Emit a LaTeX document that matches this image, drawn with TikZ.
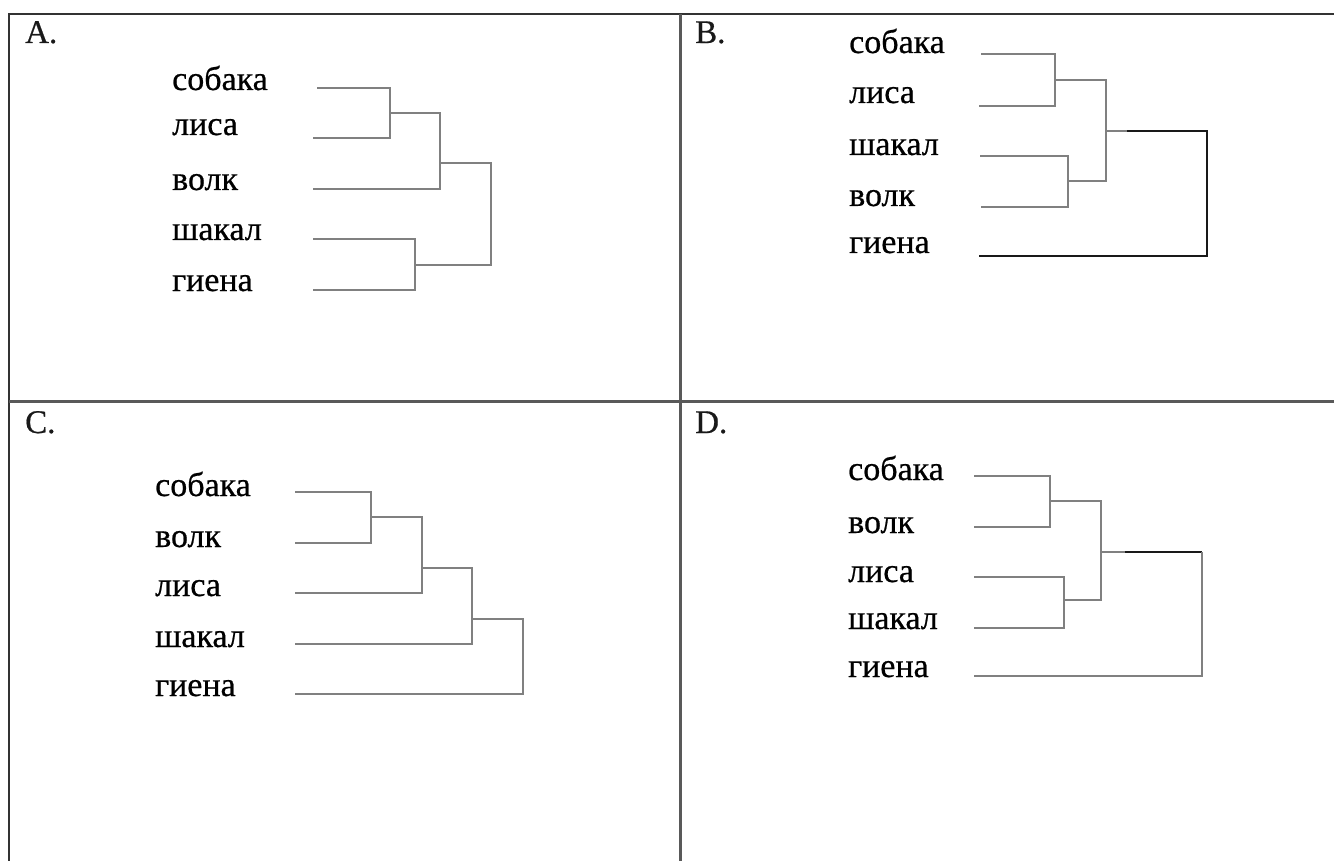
\documentclass[tikz,border=0pt]{standalone}
\usepackage{fontspec}
\setmainfont{Liberation Serif}
\newfontfamily\heavyserif[FakeBold=0.6]{Liberation Serif}
\begin{document}
\begin{tikzpicture}[x=1pt,y=-1pt,
  frame/.style={draw=black!80,line width=2.2pt},
  divider/.style={draw=black!65,line width=3pt},
  branch/.style={draw=black!50,line width=1.8pt},
  rootbranch/.style={draw=black!90,line width=1.6pt},
  lbl/.style={anchor=base west,inner sep=0pt,text=black,font=\heavyserif\fontsize{34}{36}\selectfont},
  tag/.style={anchor=base west,inner sep=0pt,text=black!90,font=\heavyserif\fontsize{33}{36}\selectfont}]
\useasboundingbox[fill=white] (0,0) rectangle (1334,861);

% outer frame and panel dividers
\draw[frame] (9,861) -- (9,14) -- (1334,14);
\draw[divider] (680,14) -- (680,861);
\draw[divider] (9,401) -- (1334,401);

% panel letters
\node[tag] (tA) at (25,43) {A.};
\node[tag] (tB) at (695,43) {B.};
\node[tag] (tC) at (25,433) {C.};
\node[tag] (tD) at (695,433) {D.};

% ---------- panel A ----------
\node[lbl] (la1) at (172,90) {собака};
\node[lbl] (la2) at (172,135) {лиса};
\node[lbl] (la3) at (172,190) {волк};
\node[lbl] (la4) at (172,240) {шакал};
\node[lbl] (la5) at (172,291) {гиена};
\coordinate (a1) at (317,88);
\coordinate (a2) at (313,138);
\coordinate (a3) at (313,189);
\coordinate (a4) at (313,239);
\coordinate (a5) at (313,290);
\coordinate (aj1) at (390,113);
\coordinate (aj2) at (440,163);
\coordinate (aj3) at (415,265);
\coordinate (aj4) at (491,214);
\draw[branch] (a1) -| (aj1) |- (a2);
\draw[branch] (aj1) -| (aj2) |- (a3);
\draw[branch] (a4) -| (aj3) |- (a5);
\draw[branch] (aj2) -| (aj4) |- (aj3);

% ---------- panel B ----------
\node[lbl] (lb1) at (849,53) {собака};
\node[lbl] (lb2) at (849,103) {лиса};
\node[lbl] (lb3) at (849,155) {шакал};
\node[lbl] (lb4) at (849,206) {волк};
\node[lbl] (lb5) at (849,253) {гиена};
\coordinate (b1) at (981,54);
\coordinate (b2) at (979,106);
\coordinate (b3) at (980,156);
\coordinate (b4) at (981,207);
\coordinate (b5) at (979,256);
\coordinate (bj1) at (1055,80);
\coordinate (bj2) at (1068,181);
\coordinate (bj3) at (1106,131);
\coordinate (bj4) at (1207,193);
\coordinate (bk) at (1127,131);
\draw[branch] (b1) -| (bj1) |- (b2);
\draw[branch] (b3) -| (bj2) |- (b4);
\draw[branch] (bj1) -| (bj3) |- (bj2);
\draw[branch] (bj3) -- (bk);
\draw[rootbranch] (bk) -| (bj4);
\draw[rootbranch] (bj4) |- (b5);

% ---------- panel C ----------
\node[lbl] (lc1) at (155,496) {собака};
\node[lbl] (lc2) at (155,547) {волк};
\node[lbl] (lc3) at (155,596) {лиса};
\node[lbl] (lc4) at (155,647) {шакал};
\node[lbl] (lc5) at (155,696) {гиена};
\coordinate (c1) at (295,492);
\coordinate (c2) at (295,543);
\coordinate (c3) at (295,593);
\coordinate (c4) at (295,644);
\coordinate (c5) at (295,694);
\coordinate (cj1) at (371,517);
\coordinate (cj2) at (422,568);
\coordinate (cj3) at (472,619);
\coordinate (cj4) at (523,656);
\draw[branch] (c1) -| (cj1) |- (c2);
\draw[branch] (cj1) -| (cj2) |- (c3);
\draw[branch] (cj2) -| (cj3) |- (c4);
\draw[branch] (cj3) -| (cj4) |- (c5);

% ---------- panel D ----------
\node[lbl] (ld1) at (848,480) {собака};
\node[lbl] (ld2) at (848,533) {волк};
\node[lbl] (ld3) at (848,582) {лиса};
\node[lbl] (ld4) at (848,629) {шакал};
\node[lbl] (ld5) at (848,677) {гиена};
\coordinate (d1) at (974,476);
\coordinate (d2) at (974,527);
\coordinate (d3) at (974,577);
\coordinate (d4) at (974,628);
\coordinate (d5) at (974,676);
\coordinate (dj1) at (1050,501);
\coordinate (dj2) at (1064,600);
\coordinate (dj3) at (1101,552);
\coordinate (dj4) at (1202,614);
\coordinate (dk) at (1125,552);
\coordinate (dt) at (1202,552);
\draw[branch] (d1) -| (dj1) |- (d2);
\draw[branch] (d3) -| (dj2) |- (d4);
\draw[branch] (dj1) -| (dj3) |- (dj2);
\draw[branch] (dj3) -- (dk);
\draw[rootbranch] (dk) -- (dt);
\draw[branch] (dt) -- (dj4) |- (d5);
\end{tikzpicture}
\end{document}
